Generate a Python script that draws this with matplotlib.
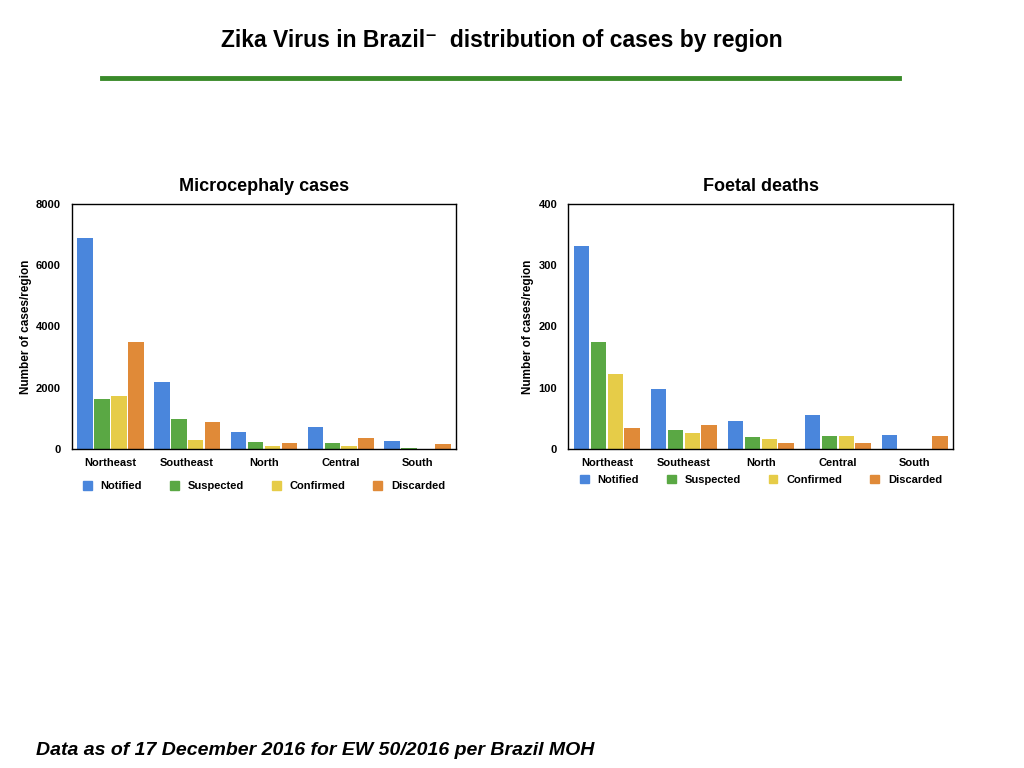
"""
Zika virus in Brazil: microcephaly cases and foetal deaths by region
"""
import numpy as np
import matplotlib.pyplot as plt
import matplotlib.patches as mpatches

plt.rcParams["font.family"] = ["Liberation Sans", "DejaVu Sans"]
plt.rcParams["font.weight"] = "bold"

REGIONS = ["Northeast", "Southeast", "North", "Central", "South"]
SERIES = ["Notified", "Suspected", "Confirmed", "Discarded"]
COLORS = {
    "Notified":  "#4a86dc",
    "Suspected": "#5aa844",
    "Confirmed": "#e6cc48",
    "Discarded": "#e08a38",
}

# значения по регионам (Notified, Suspected, Confirmed, Discarded)
MICRO = {
    "Notified":  [6890, 2200, 560, 720, 270],
    "Suspected": [1650, 980, 230, 220, 40],
    "Confirmed": [1750, 300, 100, 120, 0],
    "Discarded": [3500, 900, 200, 360, 170],
}
FOETAL = {
    "Notified":  [331, 98, 46, 55, 24],
    "Suspected": [174, 31, 20, 22, 0],
    "Confirmed": [122, 26, 16, 22, 0],
    "Discarded": [34, 40, 10, 10, 22],
}

fig = plt.figure(figsize=(10.24, 7.68), dpi=100)

fig.text(0.49, 0.947, "Zika Virus in Brazil\u207b  distribution of cases by region",
         ha="center", va="center", fontsize=16.5, fontweight="bold")
fig.add_artist(plt.Line2D([0.1, 0.878], [0.899, 0.899], color="#3a8a2a", linewidth=3.5))
fig.text(0.035, 0.023, "Data as of 17 December 2016 for EW 50/2016 per Brazil MOH",
         ha="left", va="center", fontsize=14, fontweight="bold", style="italic")

x = np.arange(len(REGIONS))
width = 0.22

panels = [
    ([0.0703, 0.415, 0.375, 0.320], MICRO, "Microcephaly cases", 8000, 2000, 0.367),
    ([0.555, 0.415, 0.376, 0.320], FOETAL, "Foetal deaths", 400, 100, 0.375),
]
for rect, data, title, ymax, step, leg_y in panels:
    ax = fig.add_axes(rect)
    for i, s in enumerate(SERIES):
        ax.bar(x + (i - 1.5) * width, data[s], width * 0.92, color=COLORS[s])
    ax.set_xlim(-0.5, len(REGIONS) - 0.5)
    ax.set_ylim(0, ymax)
    ax.set_yticks(np.arange(0, ymax + 1, step))
    ax.set_xticks(x)
    ax.set_xticklabels(REGIONS, fontsize=8, fontweight="bold")
    ax.tick_params(axis="y", labelsize=8, length=0, pad=8)
    ax.tick_params(axis="x", length=0, pad=6)
    ax.set_ylabel("Number of cases/region", fontsize=8.5, fontweight="bold", labelpad=3)
    ax.set_title(title, fontsize=13, fontweight="bold", pad=9)
    for sp in ax.spines.values():
        sp.set_linewidth(1)
    handles = [mpatches.Patch(color=COLORS[s], label=s) for s in SERIES]
    fig.legend(handles=handles, loc="center",
               bbox_to_anchor=(rect[0] + rect[2] / 2, leg_y), ncol=4, frameon=False,
               fontsize=8, handlelength=0.8, handleheight=0.8, columnspacing=2.5)

plt.savefig("out.png", dpi=100)
